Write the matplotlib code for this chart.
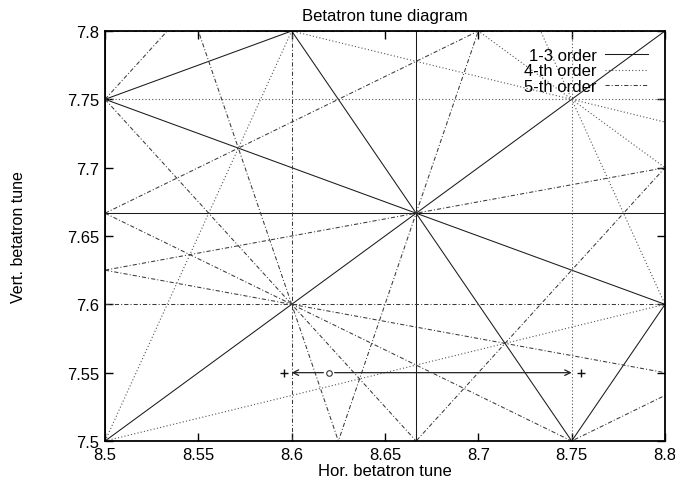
import numpy as np
import matplotlib
matplotlib.use("Agg")
import matplotlib.pyplot as plt
from matplotlib.lines import Line2D

plt.rcParams['font.family'] = ['Liberation Sans', 'DejaVu Sans']

# resonance lines m*Qx + n*Qy = p inside the plotted window
res_13 = [(2, 0, 17), (0, 2, 15), (1, -1, 1), (3, 0, 26), (0, 3, 23),
          (2, 1, 25), (2, -1, 10), (1, 2, 24), (1, -2, -7)]
res_4 = [(4, 0, 35), (0, 4, 31), (3, 1, 34), (3, -1, 18), (1, 3, 32),
         (1, -3, -14), (2, 2, 33)]
res_5 = [(5, 0, 43), (5, 0, 44), (0, 5, 38), (0, 5, 39), (4, 1, 42),
         (4, -1, 27), (1, 4, 39), (1, -4, -22), (3, 2, 41), (3, -2, 10),
         (3, -2, 11), (2, 3, 40), (2, -3, -6), (2, -3, -5)]

qx_lim = [8.5, 8.8]
qy_lim = [7.5, 7.8]
ticks_x = [8.5, 8.55, 8.6, 8.65, 8.7, 8.75, 8.8]
ticks_y = [7.5, 7.55, 7.6, 7.65, 7.7, 7.75, 7.8]

# tune scan at fixed vertical tune
scan_qy = 7.55
scan_start = 8.62
scan_left = 8.6
scan_right = 8.75
scan_marks = [8.596, 8.755]

styles = {
    '1-3 order': dict(color='#1a1a1a', lw=0.75, ls='-'),
    '4-th order': dict(color='#555555', lw=0.8, ls=(0, (1, 2))),
    '5-th order': dict(color='#3a3a3a', lw=0.75, ls=(0, (4, 2, 1, 2))),
}

fig = plt.figure(figsize=(6.75, 4.89), dpi=100)
ax = fig.add_axes([0.1556, 0.0961, 0.8296, 0.8385])

def draw(lines, st):
    for m, n, p in lines:
        if n == 0:
            ax.plot([p / m, p / m], qy_lim, **st)
        else:
            qx = np.array(qx_lim)
            ax.plot(qx, (p - m * qx) / n, **st)

draw(res_13, styles['1-3 order'])
draw(res_4, styles['4-th order'])
draw(res_5, styles['5-th order'])

# scan path: start point, arrows to both ends, end markers
arrow = dict(arrowstyle='->', color='#222222', lw=0.9, shrinkA=0, shrinkB=0)
ax.annotate('', xy=(scan_left, scan_qy), xytext=(scan_start - 0.003, scan_qy),
            arrowprops=arrow)
ax.annotate('', xy=(scan_right, scan_qy), xytext=(scan_start + 0.003, scan_qy),
            arrowprops=arrow)
ax.plot([scan_start], [scan_qy], 'o', mfc='none', mec='#333333', ms=4, mew=0.8)
ax.plot(scan_marks, [scan_qy] * len(scan_marks), '+', color='#111111', ms=6, mew=1)

ax.set_xlim(qx_lim)
ax.set_ylim(qy_lim)
ax.set_xticks(ticks_x)
ax.set_yticks(ticks_y)
ax.set_xticklabels(['%g' % t for t in ticks_x])
ax.set_yticklabels(['%g' % t for t in ticks_y])
ax.tick_params(direction='in', top=True, right=True, length=6, width=1,
               labelsize=12, pad=4)
for sp in ax.spines.values():
    sp.set_linewidth(1.3)

ax.set_title('Betatron tune diagram', fontsize=12, pad=8)
ax.set_xlabel('Hor. betatron tune', fontsize=12, labelpad=1)
ax.set_ylabel('Vert. betatron tune', fontsize=11.5, labelpad=30)

handles = [Line2D([], [], **st) for st in styles.values()]
ax.legend(handles, list(styles.keys()), loc='upper right', frameon=False,
          markerfirst=False, handlelength=2.6, fontsize=12, labelspacing=0.05,
          handletextpad=0.5, borderaxespad=0.6)

fig.savefig('out.png', dpi=100)
